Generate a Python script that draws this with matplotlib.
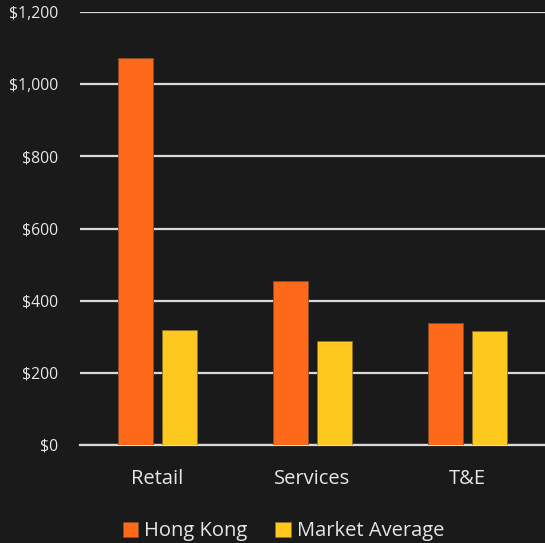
import numpy as np
import matplotlib.pyplot as plt
from matplotlib.ticker import FuncFormatter

categories = ['Retail', 'Services', 'T&E']
hong_kong = [1072, 454, 338]
market_avg = [318, 289, 315]

bg = '#1a1a1a'
txt = '#e6e6e6'
orange = '#ff6a1a'
yellow = '#ffc81e'

plt.rcParams['font.family'] = ['Open Sans', 'DejaVu Sans']

fig = plt.figure(figsize=(5.45, 5.43), dpi=100, facecolor=bg)
ax = fig.add_axes([80 / 545, 98 / 543, 465 / 545, 433 / 543], facecolor=bg)

x = np.arange(len(categories))
w = 0.225
gap = 0.03
ax.bar(x - w / 2 - gap, hong_kong, w, color=orange, edgecolor='#8a4a20', linewidth=0.6,
       label='Hong Kong', zorder=3)
ax.bar(x + w / 2 + gap, market_avg, w, color=yellow, edgecolor='#8a7020', linewidth=0.6,
       label='Market Average', zorder=3)

ax.set_xlim(-0.5, 2.5)
ax.set_ylim(0, 1200)
ax.set_yticks(range(0, 1201, 200))
ax.yaxis.set_major_formatter(FuncFormatter(lambda v, p: f'${v:,.0f}'))
ax.yaxis.grid(True, color='#d9d9d9', linewidth=1.6, zorder=0)
ax.set_xticks(x)
ax.set_xticklabels(categories)

for s in ['top', 'right', 'left']:
    ax.spines[s].set_visible(False)
ax.spines['bottom'].set_color('#d9d9d9')
ax.spines['bottom'].set_linewidth(1.6)
ax.tick_params(axis='y', length=0, pad=16, labelsize=11.3, labelcolor=txt)
ax.tick_params(axis='x', length=0, pad=17, labelsize=14.5, labelcolor=txt)

fig.legend(loc='lower center', bbox_to_anchor=(0.52, -0.03), ncol=2, frameon=False,
           fontsize=14.5, labelcolor=txt, handlelength=0.75, handleheight=0.75,
           handletextpad=0.3, columnspacing=1.4)

fig.savefig('out.png', dpi=100, facecolor=bg)
